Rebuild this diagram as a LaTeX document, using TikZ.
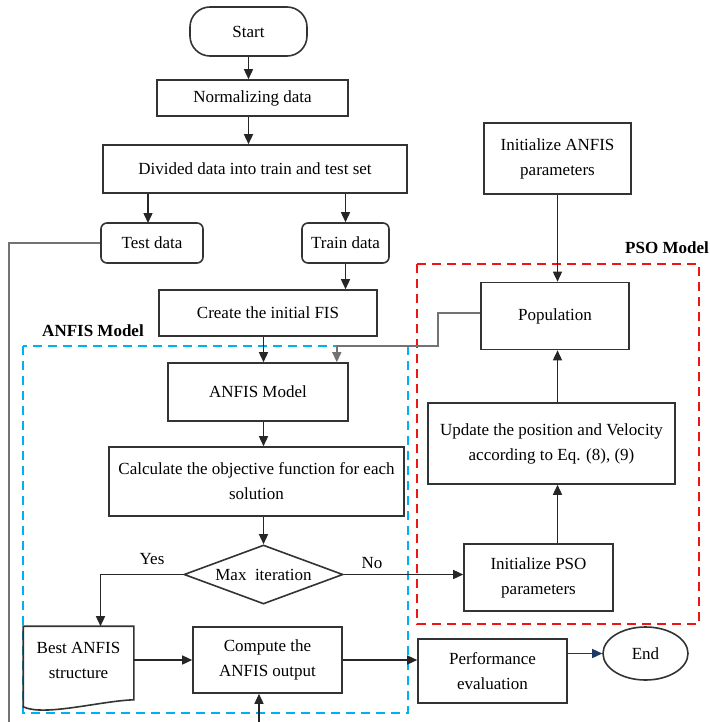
\documentclass[tikz,border=0pt]{standalone}
\usepackage{fontspec}
\setmainfont{Liberation Serif}
\usetikzlibrary{arrows.meta, shapes.geometric}

\definecolor{anfisblue}{RGB}{0,176,240}
\definecolor{psored}{RGB}{240,20,20}
\definecolor{endnavy}{RGB}{31,56,100}

\tikzset{
    box/.style={draw=black!80, line width=1.6pt, align=center, inner sep=0pt},
    link/.style={draw=black!85, line width=1.5pt},
    greylink/.style={draw=black!55, line width=1.4pt},
    frame/.style={dashed, line width=2pt, dash pattern=on 9pt off 6pt}
}

\begin{document}
\begin{tikzpicture}[x=1pt, y=-1pt, font=\fontsize{17}{25}\selectfont]
\useasboundingbox (0,0) rectangle (709,722);

% model frames
\draw[frame, anfisblue] (23,346) rectangle (408,713);
\draw[frame, psored] (417,264) rectangle (699,624);

\begin{scope}[every node/.style={box}]
    \node (start) at (248.5,31.5) [minimum width=117, minimum height=49, rounded corners=20] {Start};
    \node (norm) at (252.5,98) [minimum width=191, minimum height=36] {Normalizing data};
    \node (divide) at (255,169) [minimum width=304, minimum height=48] {Divided data into train and test set};

    \node (test) at (152,243) [minimum width=102, minimum height=40, rounded corners=6] {Test data};
    \node (train) at (345.5,243) [minimum width=87, minimum height=40, rounded corners=6] {Train data};
    \node (fis) at (268,313) [minimum width=218, minimum height=46] {Create the initial FIS};

    \node (initanfis) at (557.5,158.5) [minimum width=147, minimum height=71] {Initialize ANFIS\\parameters};
    \node (pop) at (555,316) [minimum width=148, minimum height=67] {Population};
    \node (update) at (551.5,443.5) [minimum width=247, minimum height=81] {Update the position and Velocity\\according to Eq. (8), (9)};
    \node (psoinit) at (538.5,577.5) [minimum width=149, minimum height=67] {Initialize PSO\\parameters};

    \node (anfis) at (258,392) [minimum width=180, minimum height=58] {ANFIS Model};
    \node (calc) at (256.5,481.5) [minimum width=295, minimum height=69] {Calculate the objective function for each\\solution};
    \node (dia) at (263.5,574.5) [shape=diamond, aspect=2.7, minimum width=159, minimum height=59] {Max\ \ iteration};

    \node (best) at (78.5,660) [draw=none, minimum width=109, minimum height=66] {Best ANFIS\\structure};
    \node (comp) at (267.5,660) [minimum width=149, minimum height=66] {Compute the\\ANFIS output};
    \node (perf) at (492.5,671) [minimum width=149, minimum height=64] {Performance\\evaluation};
    \node (endn) at (645.5,653.5) [shape=ellipse, minimum width=85, minimum height=53] {End};
\end{scope}

% document shape
\draw[box] (best.north west) -- (best.north east) -- ([yshift=-6pt]best.south east)
    .. controls +(-33,1) and +(21,10) .. ([yshift=-13pt]best.south west) -- cycle;

\node (anfislabel) at (93,331) {\bfseries ANFIS Model};
\node (psolabel) at (625,248) [anchor=west, inner sep=0pt] {\bfseries PSO Model};
\node (yes) at (152,559) {Yes};
\node (no) at (372,563) {No};

\coordinate (testend) at (9,722);
\coordinate (compin) at (259,722);

\begin{scope}[>={Triangle[length=10pt,width=9pt]}, every edge/.style={link}]
    \path [->] (start.south) edge (start.south |- norm.north);
    \path [->] (norm.south -| start.south) edge (divide.north -| start.south);
    \path [->] (divide.south -| 148,0) edge (148,223);
    \path [->] (train.north |- divide.south) edge (train.north);
    \path [->] (train.south) edge (train.south |- fis.north);
    \path [->] (fis.south -| dia.north) edge (anfis.north -| dia.north);
    \path [->] (anfis.south -| dia.north) edge (calc.north -| dia.north);
    \path [->] (calc.south -| dia.north) edge (dia.north);

    \path [->] (initanfis.south) edge (initanfis.south |- pop.north);
    \path [->] (update.north -| initanfis.south) edge (pop.south -| initanfis.south);
    \path [->] (psoinit.north -| initanfis.south) edge (update.south -| initanfis.south);

    \draw [link, ->] (dia.west) -| ([xshift=22pt]best.north);
    \path [->] (dia.east) edge (dia.east -| psoinit.west);
    \path [->] (comp.west -| best.east) edge (comp.west);
    \path [->] (comp.east) edge (comp.east -| perf.west);
    \draw [link, endnavy, ->] (perf.east |- endn.west) -- (endn.west);
    \path [->] (compin) edge (compin |- comp.south);

    \draw [greylink, ->] ([yshift=3pt]pop.west) -| (438,346) -| ([xshift=-12pt]anfis.north east);
    \draw [greylink] (test.west) -| (testend);
\end{scope}
\end{tikzpicture}
\end{document}
